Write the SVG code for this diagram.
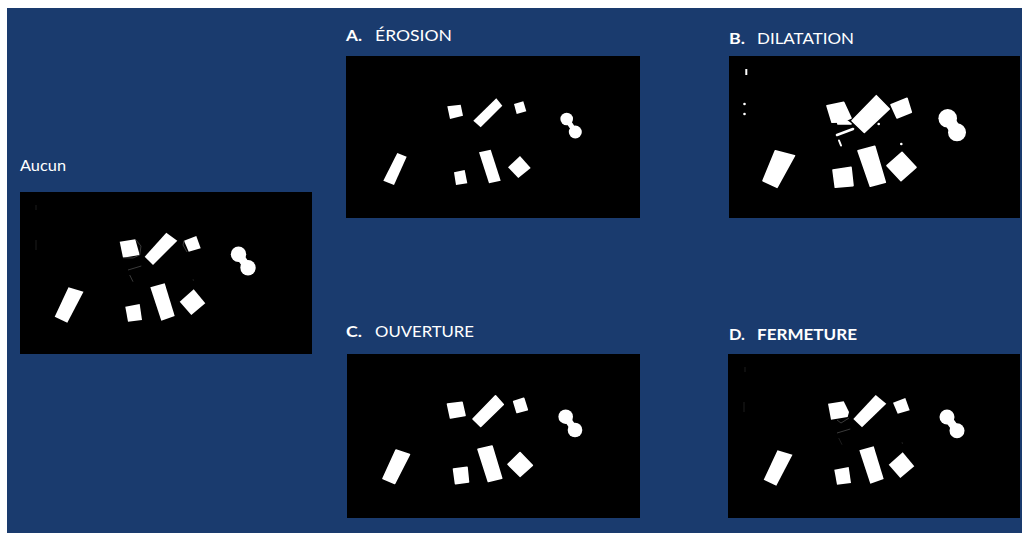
<svg xmlns="http://www.w3.org/2000/svg" width="1022" height="535" viewBox="0 0 1022 535">
<style>
.bg{fill:#1a3b6e}
.panel{fill:#000}
.s{fill:#fff}
.r{fill:#fff;stroke:#fff;stroke-width:1.6;stroke-linejoin:round}
.n{stroke:#fff;stroke-linecap:round}
.g{stroke:#4a4a4a;stroke-width:0.8;fill:none}
.gf{stroke:#2a2a2a;stroke-width:0.7;fill:none}
.lbl{fill:#fff;font-family:Lato,"Noto Sans","Liberation Sans",sans-serif;font-size:16px}
.b{font-weight:bold}
</style>
<rect x="0" y="0" width="1022" height="535" fill="#fff"/>
<rect class="bg" x="7" y="8" width="1015" height="525"/>

<g id="aucun">
<text class="lbl" x="20" y="171" textLength="46" lengthAdjust="spacingAndGlyphs">Aucun</text>
<g transform="translate(20,192)">
<rect class="panel" x="0" y="0" width="292" height="162"/>
<line class="gf" x1="16" y1="13" x2="16" y2="18"/>
<line class="gf" x1="16" y1="48" x2="16" y2="58"/>
<polygon class="s" points="99.7,49.7 115.3,47.3 119.7,63 103,65.7"/>
<polyline class="g" points="115.3,47.3 121,54 119.7,63 113,66 103,65.7"/>
<polygon class="s" points="124.7,64.7 146.3,40.7 157.3,48.7 133,73"/>
<polygon class="s" points="164,48.7 176.3,44 180.7,56.3 168.7,59.7"/>
<polyline class="g" points="164,48.7 163,53 167,60"/>
<circle class="s" cx="218.5" cy="62.2" r="7.7"/>
<circle class="s" cx="228" cy="75.7" r="7.7"/>
<line class="n" x1="218.5" y1="62.2" x2="228" y2="75.7" stroke-width="8"/>
<polygon class="s" points="48.5,95.3 63.5,99.7 47.3,130.7 34.7,124.7"/>
<polygon class="s" points="105.3,114.7 119.7,112 122,128 108,129.7"/>
<polygon class="s" points="130.3,95.3 144.7,91.3 154.7,124 141.3,128.7"/>
<polygon class="s" points="159.7,109.7 173.7,97.3 185.3,111.3 171.3,123"/>
<line class="g" x1="108" y1="78" x2="121.3" y2="74"/>
<line class="g" x1="109.7" y1="83" x2="113" y2="89.7"/>
<line class="gf" x1="173" y1="87" x2="173.5" y2="89"/>
</g>
</g>

<g id="erosion">
<text class="lbl b" x="346" y="41" textLength="16" lengthAdjust="spacingAndGlyphs">A.</text>
<text class="lbl" x="375" y="41" textLength="77" lengthAdjust="spacingAndGlyphs">ÉROSION</text>
<g transform="translate(346,56)">
<rect class="panel" x="0" y="0" width="294" height="162"/>
<polygon class="s" points="101.3,50.3 114.7,48.7 117,59.7 104,63"/>
<polygon class="s" points="127.3,64.7 150.3,42.3 156.3,49.7 134.7,71.3"/>
<polygon class="s" points="168,48 177.3,45.3 180.3,55.3 170.7,58"/>
<circle class="s" cx="220.7" cy="63" r="6.3"/>
<circle class="s" cx="229.3" cy="76" r="6.5"/>
<line class="n" x1="220.7" y1="63" x2="229.3" y2="76" stroke-width="5"/>
<polygon class="s" points="51.3,97 60.7,100.7 48,129 37.3,124.7"/>
<polygon class="s" points="108,116.3 118.7,114 121.3,127.3 110,129"/>
<polygon class="s" points="133,96.3 144.7,93.7 154.7,124.7 143,127.3"/>
<polygon class="s" points="162,111.3 174,100 184.7,112 172.3,122"/>
</g>
</g>

<g id="dilatation">
<text class="lbl b" x="729" y="44" textLength="16" lengthAdjust="spacingAndGlyphs">B.</text>
<text class="lbl" x="757" y="44" textLength="97" lengthAdjust="spacingAndGlyphs">DILATATION</text>
<g transform="translate(729,56)">
<rect class="panel" x="0" y="0" width="291" height="162"/>
<rect class="s" x="16.3" y="13" width="2" height="6"/>
<circle class="s" cx="15.5" cy="48" r="1.3"/>
<circle class="s" cx="15.5" cy="58" r="1.3"/>
<polygon class="r" points="98,49.7 114.7,46.3 122,62 113,66 103,66.3"/>
<polygon class="r" points="108,64 118,65 122,68 109,68"/>
<polygon class="r" points="123,64.7 147.3,39.7 160.3,53 135.3,76.3"/>
<polygon class="r" points="162,48.7 178,42.3 182.3,56.3 168,62"/>
<circle class="s" cx="218.7" cy="62.3" r="9.3"/>
<circle class="s" cx="228" cy="76.3" r="9"/>
<line class="n" x1="218.7" y1="62.3" x2="228" y2="76.3" stroke-width="12"/>
<polygon class="r" points="46.3,94.7 65.5,99.7 48,131.3 34,124.7"/>
<polygon class="r" points="104,114 122,111.3 124,129.7 106.3,131.3"/>
<polygon class="r" points="129,94.7 145.7,90.3 156.3,126.3 141.3,130.3"/>
<polygon class="r" points="158,109.7 173,96.3 187,111.3 172,124.7"/>
<line x1="108" y1="79" x2="124" y2="73" stroke="#fff" stroke-width="2.5" stroke-linecap="round"/>
<line x1="110" y1="84.5" x2="112" y2="89.5" stroke="#fff" stroke-width="2" stroke-linecap="round"/>
<circle class="s" cx="149.7" cy="68" r="1.3"/>
<circle class="s" cx="172.3" cy="88" r="1.3"/>
</g>
</g>

<g id="ouverture">
<text class="lbl b" x="346" y="336.5" textLength="16" lengthAdjust="spacingAndGlyphs">C.</text>
<text class="lbl" x="375" y="336.5" textLength="99" lengthAdjust="spacingAndGlyphs">OUVERTURE</text>
<g transform="translate(347,354)">
<rect class="panel" x="0" y="0" width="293" height="164"/>
<polygon class="r" points="100.5,50 115,48.3 118,61.5 103.5,64"/>
<polygon class="r" points="126,65 148.5,41.8 156.3,50.5 133.7,72.3"/>
<polygon class="r" points="166.7,47.5 176.7,44.3 180.3,55.8 170,58.5"/>
<circle class="s" cx="218.7" cy="62.7" r="7.3"/>
<circle class="s" cx="228" cy="76" r="7.3"/>
<line class="n" x1="218.7" y1="62.7" x2="228" y2="76" stroke-width="7"/>
<polygon class="r" points="49,96 62.5,100.5 47.7,129.5 36,124.5"/>
<polygon class="r" points="106.5,115 120,113.2 121.5,128 108.5,129.7"/>
<polygon class="r" points="131,95.3 145,92 154.7,124.3 141.3,127.5"/>
<polygon class="r" points="161,110.3 173,98.5 185.3,111.3 173,122.3"/>
</g>
</g>

<g id="fermeture">
<text class="lbl b" x="729" y="340" textLength="16" lengthAdjust="spacingAndGlyphs">D.</text>
<text class="lbl b" x="757" y="340" textLength="100" lengthAdjust="spacingAndGlyphs">FERMETURE</text>
<g transform="translate(728,354)">
<rect class="panel" x="0" y="0" width="292" height="164"/>
<line class="gf" x1="17" y1="13" x2="17" y2="18"/>
<line class="gf" x1="16" y1="48" x2="16" y2="58"/>
<polygon class="s" points="100,49.7 115.7,47.3 121,58 119.7,63 103,65.7"/>
<polyline class="g" points="109,66 113,69 121,64"/>
<polygon class="s" points="125.3,65 147.7,41 158.3,49.7 134,73.3"/>
<polygon class="s" points="165,48.7 177.3,44 181.7,56.3 169.7,59.7"/>
<circle class="s" cx="219" cy="63" r="7.5"/>
<circle class="s" cx="229" cy="76.7" r="7.5"/>
<line class="n" x1="219" y1="63" x2="229" y2="76.7" stroke-width="8"/>
<polygon class="s" points="49.5,96.3 64.5,100.7 48.3,131.7 35.7,125.7"/>
<polygon class="s" points="106.3,115.7 120.7,113 123,129 109,130.7"/>
<polygon class="s" points="131.3,96.3 145.7,92.3 155.7,125 142.3,129.7"/>
<polygon class="s" points="160.7,110.7 174.7,98.3 186.3,112.3 172.3,124"/>
<line class="g" x1="109" y1="79" x2="122.3" y2="75"/>
<line class="gf" x1="110.7" y1="84" x2="114" y2="90.7"/>
<line class="gf" x1="174" y1="88" x2="174.5" y2="90"/>
</g>
</g>
</svg>
